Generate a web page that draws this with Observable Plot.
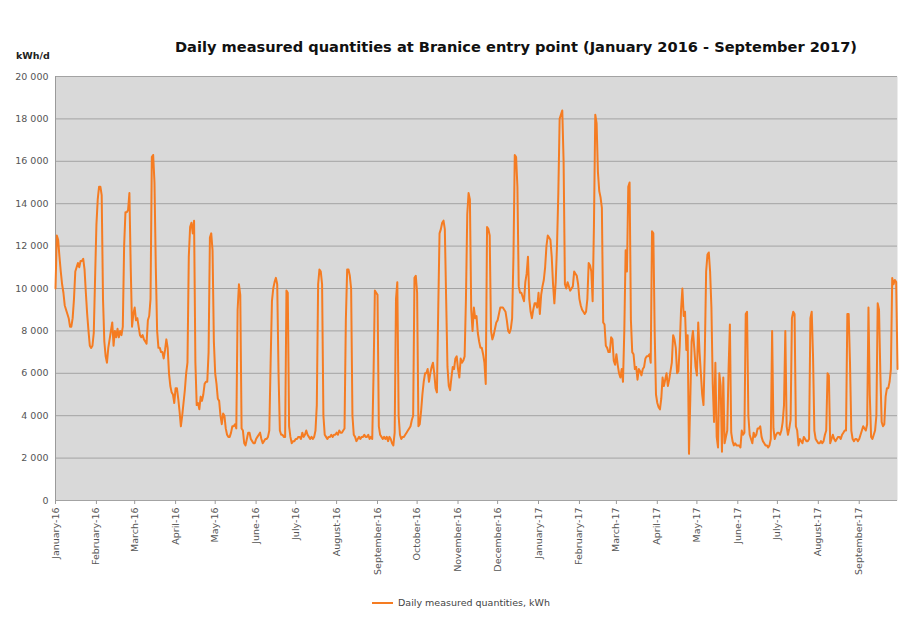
<!DOCTYPE html>
<html><head><meta charset="utf-8">
<script src="https://cdn.jsdelivr.net/npm/d3@7"></script>
<script src="https://cdn.jsdelivr.net/npm/@observablehq/plot@0.6"></script>
<style>
body{margin:0;background:#fff;font-family:"DejaVu Sans",sans-serif;}
#wrap{position:relative;width:905px;height:620px;overflow:hidden;}
#chart{position:absolute;left:0;top:0;}
#title{position:absolute;left:116px;width:800px;top:38px;text-align:center;font-weight:bold;font-size:14.6px;color:#111;white-space:nowrap;}
#unit{position:absolute;left:16px;top:50px;font-weight:bold;font-size:9.5px;color:#222;}
#legend{position:absolute;left:372px;top:597px;font-size:9.5px;color:#444;white-space:nowrap;}
#legend .sw{display:inline-block;width:21px;height:2px;background:#f57c22;vertical-align:middle;margin-right:5px;position:relative;top:-1px;}
</style></head><body>
<div id="wrap">
<div id="chart"></div>
<div id="title">Daily measured quantities at Branice entry point (January 2016 - September 2017)</div>
<div id="unit">kWh/d</div>
<div id="legend"><span class="sw"></span>Daily measured quantities, kWh</div>
</div>
<script>
// Daily values (kWh/d), one array per month
const jan16 = [10000,12500,12300,11500,10800,10200,9800,9200,9000,8800,8600,8200,8200,8600,9500,10800,11000,11200,11000,11300,11300,11400,10900,9800,8800,8000,7300,7200,7300,7900,10500];
const feb16 = [13000,14200,14800,14800,14400,9500,7500,6800,6500,7200,7600,8000,8400,7300,8000,7700,8100,7700,8000,7800,8200,12000,13600,13600,13700,14500,11000,8200,8800];
const mar16 = [9100,8500,8600,8200,7800,7700,7800,7600,7500,7400,8500,8700,9500,16200,16300,15000,11000,8000,7200,7200,7000,7000,6700,7100,7600,7200,6000,5400,5100,5000,4600];
const apr16 = [5300,5300,4800,4200,3500,4000,4600,5200,6000,6500,11500,12900,13100,12600,13200,6500,4500,4600,4300,4900,4700,5000,5500,5600,5600,7000,12400,12600,11800,7500];
const may16 = [6000,5500,4800,4700,4000,3600,4100,4000,3400,3100,3000,3000,3200,3500,3500,3600,3400,9000,10200,9700,3400,3300,2700,2600,2900,3200,3200,2900,2800,2700,2700];
const jun16 = [2900,3000,3100,3200,2900,2700,2800,2900,2900,3000,3300,6500,9400,10000,10300,10500,10200,6000,3300,3100,3100,3000,3000,9900,9800,3500,3000,2700,2800,2800];
const jul16 = [2900,2900,3000,3000,2900,3200,3000,3100,3300,3100,3000,2900,3000,2900,3000,3300,4500,10200,10900,10800,10200,4000,3100,3000,2900,3000,3000,3100,3000,3100,3100];
const aug16 = [3200,3100,3300,3200,3200,3300,3400,8500,10900,10900,10600,10000,4000,3100,3000,2800,2900,3000,2900,3000,3000,3100,3000,3000,3100,2900,3000,2900,6000,9900,9800];
const sep16 = [9700,3500,3100,3000,2900,3000,2900,3000,2800,3000,2900,2700,2600,3200,9500,10300,4000,3100,2900,3000,3000,3100,3200,3300,3400,3500,3800,4000,10500,10600];
const oct16 = [9800,3500,3600,4200,5000,5600,6000,6000,6200,5600,6000,6300,6500,6000,5300,5100,9000,12600,12800,13100,13200,12800,9500,6300,5400,5200,5800,6300,6200,6700,6800];
const nov16 = [6200,5800,6700,6500,6600,6800,9500,13500,14500,14200,9000,8000,9100,8600,8700,7900,7500,7200,7200,6900,6500,5500,12900,12800,12500,8000,7600,7800,8100,8400];
const dec16 = [8500,8800,9100,9100,9100,9000,8900,8500,8000,7900,8100,8600,11500,16300,16200,14800,10100,9800,9800,9600,9400,10300,10700,11500,9500,8900,8600,9000,9300,9300,9100];
const jan17 = [9800,8800,9700,10100,10400,11000,12000,12500,12400,12300,11500,10200,9300,10300,12000,14500,18000,18200,18400,16000,10200,10000,10300,10100,9900,10000,10100,10800,10700,10600,10200];
const feb17 = [9500,9200,9000,8900,8800,8900,9500,11200,11100,10800,9400,13000,18200,17800,15500,14600,14300,13800,8400,8300,7300,7200,7000,7000,7700,7600,6600,6400];
const mar17 = [6900,6400,6000,5800,6200,5600,8000,11800,10800,14800,15000,8500,7000,6900,6200,6300,5700,6200,6100,5900,6200,6300,6700,6800,6800,6900,6500,12700,12600,8000,5000];
const apr17 = [4600,4400,4300,4800,5800,5400,5700,6000,5400,5700,6100,6500,7800,7600,7200,6000,6100,7300,9000,10000,8700,8900,7100,7800,2200,4800,7500,8000,7200,6300];
const may17 = [5900,8400,7000,6000,5000,4500,7000,10800,11600,11700,10800,9100,5500,3700,6500,3000,2500,6000,5400,2300,5800,2700,3000,3300,6200,8300,3200,2800,2600,2700,2600];
const jun17 = [2600,2600,2500,3300,3100,3200,8800,8900,4000,3100,2900,2700,3200,3000,3100,3400,3400,3500,3000,2800,2700,2600,2600,2500,2600,2900,8000,3400,2900,3100];
const jul17 = [3200,3200,3100,3300,3700,4500,8000,3500,3100,3400,3800,8600,8900,8800,3500,3300,2600,2900,2800,2700,3000,2900,2800,2800,2900,8600,8900,6800,3300,2900,2800];
const aug17 = [2700,2700,2800,2700,2800,3100,3300,6000,5900,2700,2900,3100,2900,2800,2900,3000,3000,2900,3100,3200,3300,3300,8800,8800,6500,3300,2900,2800,2900,2900,2800];
const sep17 = [2900,3100,3300,3500,3400,3300,3600,9100,5000,3000,2900,3100,3300,4000,9300,9000,6000,3700,3500,3600,4900,5300,5300,5600,6200,10500,10200,10400,10300,6200];

const startDate = new Date(Date.UTC(2016, 0, 1));
const endDate = new Date(Date.UTC(2017, 8, 30));
const yTicks = [0,2000,4000,6000,8000,10000,12000,14000,16000,18000,20000];
const xTicks = d3.utcMonth.range(startDate, endDate);

const months = [jan16,feb16,mar16,apr16,may16,jun16,jul16,aug16,sep16,oct16,nov16,dec16,jan17,feb17,mar17,apr17,may17,jun17,jul17,aug17,sep17];
const values = months.flat();
const data = values.map((v, i) => ({date: d3.utcDay.offset(startDate, i), value: v}));

const fmtY = d => d3.format(",")(d).replace(/,/g, " ");
const fmtX = d => d3.utcFormat("%B-%y")(d);

const chart = Plot.plot({
  width: 905,
  height: 620,
  marginLeft: 55,
  marginRight: 8,
  marginTop: 76,
  marginBottom: 120,
  style: {fontFamily: "DejaVu Sans, sans-serif", fontSize: "9.5px", color: "#555", background: "transparent"},
  x: {type: "utc", domain: [startDate, endDate]},
  y: {domain: [0, 20000]},
  marks: [
    Plot.frame({fill: "#d9d9d9", stroke: null}),
    Plot.gridY(yTicks, {stroke: "#a3a3a3", strokeOpacity: 1, strokeWidth: 1}),
    Plot.ruleX([startDate], {stroke: "#9a9a9a", strokeWidth: 1}),
    Plot.axisY(yTicks, {tickFormat: fmtY, tickSize: 0, tickPadding: 7, label: null, fill: "#555"}),
    Plot.axisX(xTicks, {tickFormat: fmtX, tickRotate: -90, tickSize: 4, tickPadding: 3, label: null, stroke: "#9a9a9a", fill: "#555", fontSize: 9.5}),
    Plot.lineY(data, {x: "date", y: "value", stroke: "#f57c22", strokeWidth: 2, strokeLinejoin: "round"})
  ]
});
document.getElementById("chart").appendChild(chart);
</script>
</body></html>
